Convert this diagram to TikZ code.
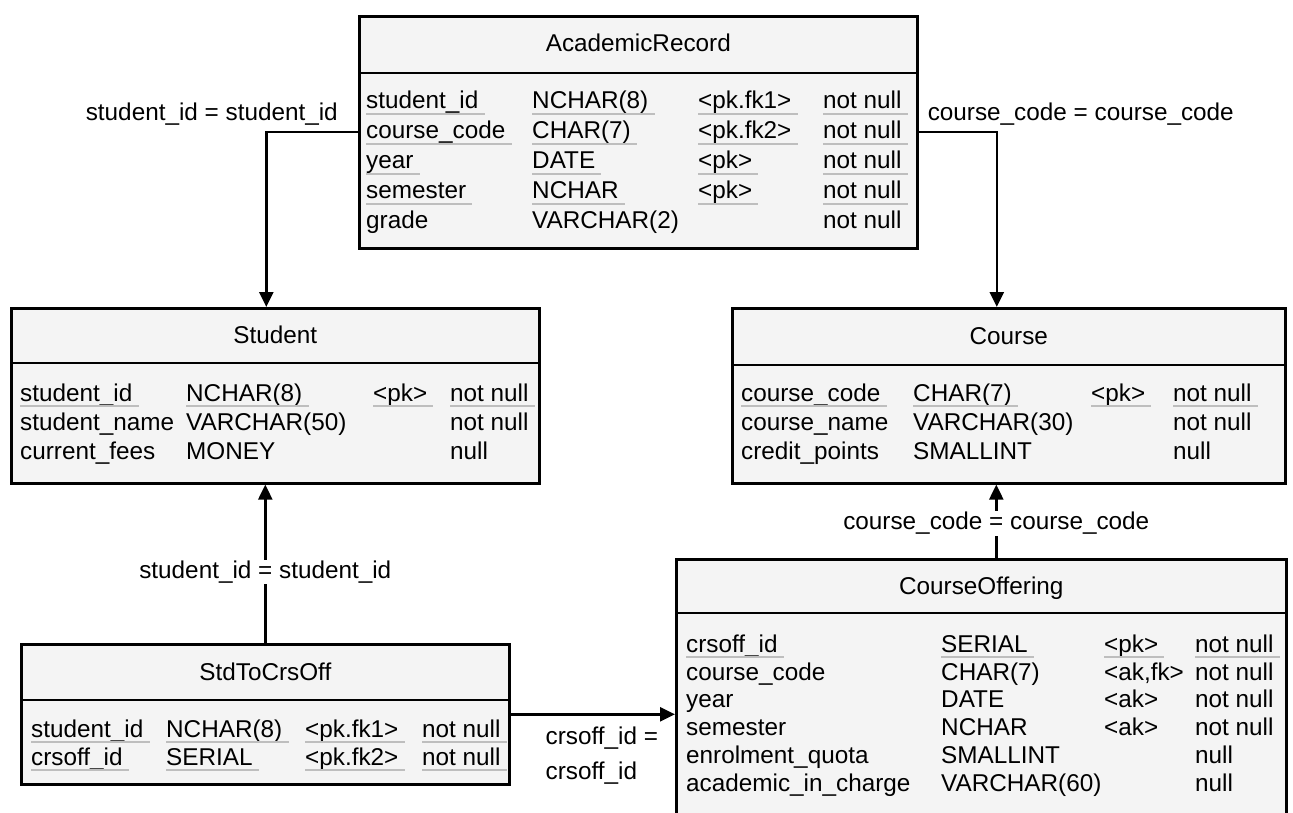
\documentclass[tikz,border=0pt]{standalone}
\usepackage{fontspec}
\setmainfont{Liberation Sans}
\usetikzlibrary{arrows.meta}

\definecolor{boxgray}{RGB}{244,244,244}
\definecolor{ulgray}{RGB}{190,190,190}

\tikzset{
  every node/.style={font=\fontsize{24.3}{35}\selectfont},
  tbl/.style={draw, line width=2.6pt, fill=boxgray, anchor=north west, inner sep=0pt},
  fld/.style={anchor=base west, inner sep=0pt, text depth=5pt},
  pkfld/.style={fld, append after command={(\tikzlastnode.south west) edge[draw=ulgray, line width=1.5pt] ([xshift=6pt]\tikzlastnode.south east)}},
  ttl/.style={anchor=base},
  lbl/.style={inner sep=1pt},
  fk/.style={line width=2.4pt, -{Triangle[length=15pt,width=14pt]}},
  hdr/.style={line width=2.6pt}
}

\begin{document}
\begin{tikzpicture}[x=1pt, y=-1pt]
  \useasboundingbox (0,0) rectangle (1293,813);

  % tables
  \node[tbl, minimum width=558pt, minimum height=232pt] (ar) at (358,15) {};
  \node[tbl, minimum width=528pt, minimum height=175pt] (st) at (10,307) {};
  \node[tbl, minimum width=553pt, minimum height=175pt] (crs) at (731,307) {};
  \node[tbl, minimum width=488pt, minimum height=140pt] (sto) at (20,643) {};
  \node[tbl, minimum width=610pt, minimum height=272pt] (co) at (675,558) {};

  \draw[hdr] ([yshift=-58pt]ar.north west) -- ([yshift=-58pt]ar.north east);
  \draw[hdr] ([yshift=-56pt]st.north west) -- ([yshift=-56pt]st.north east);
  \draw[hdr] ([yshift=-58pt]crs.north west) -- ([yshift=-58pt]crs.north east);
  \draw[hdr] ([yshift=-57pt]sto.north west) -- ([yshift=-57pt]sto.north east);
  \draw[hdr] ([yshift=-55pt]co.north west) -- ([yshift=-55pt]co.north east);

  \node[ttl] (ar-h) at ([yshift=-37pt]ar.north) {AcademicRecord};
  \node[ttl] (st-h) at ([yshift=-36pt]st.north) {Student};
  \node[ttl] (crs-h) at ([yshift=-37pt]crs.north) {Course};
  \node[ttl] (sto-h) at ([yshift=-37pt]sto.north) {StdToCrsOff};
  \node[ttl] (co-h) at ([yshift=-36pt]co.north) {CourseOffering};

  % AcademicRecord
  \node[pkfld] (ar-n1) at (366,109) {student\_id};
  \node[pkfld] (ar-t1) at (532,109) {NCHAR(8)};
  \node[pkfld] (ar-k1) at (698,109) {<pk.fk1>};
  \node[pkfld] (ar-x1) at (823,109) {not null};
  \node[pkfld] (ar-n2) at (366,139) {course\_code};
  \node[pkfld] (ar-t2) at (532,139) {CHAR(7)};
  \node[pkfld] (ar-k2) at (698,139) {<pk.fk2>};
  \node[pkfld] (ar-x2) at (823,139) {not null};
  \node[pkfld] (ar-n3) at (366,169) {year};
  \node[pkfld] (ar-t3) at (532,169) {DATE};
  \node[pkfld] (ar-k3) at (698,169) {<pk>};
  \node[pkfld] (ar-x3) at (823,169) {not null};
  \node[pkfld] (ar-n4) at (366,199) {semester};
  \node[pkfld] (ar-t4) at (532,199) {NCHAR};
  \node[pkfld] (ar-k4) at (698,199) {<pk>};
  \node[pkfld] (ar-x4) at (823,199) {not null};
  \node[fld] (ar-n5) at (366,229) {grade};
  \node[fld] (ar-t5) at (532,229) {VARCHAR(2)};
  \node[fld] (ar-x5) at (823,229) {not null};

  % Student
  \node[pkfld] (st-n1) at (20,401) {student\_id};
  \node[pkfld] (st-t1) at (186,401) {NCHAR(8)};
  \node[pkfld] (st-k1) at (373,401) {<pk>};
  \node[pkfld] (st-x1) at (450,401) {not null};
  \node[fld] (st-n2) at (20,430) {student\_name};
  \node[fld] (st-t2) at (186,430) {VARCHAR(50)};
  \node[fld] (st-x2) at (450,430) {not null};
  \node[fld] (st-n3) at (20,459) {current\_fees};
  \node[fld] (st-t3) at (186,459) {MONEY};
  \node[fld] (st-x3) at (450,459) {null};

  % Course
  \node[pkfld] (crs-n1) at (741,401) {course\_code};
  \node[pkfld] (crs-t1) at (913,401) {CHAR(7)};
  \node[pkfld] (crs-k1) at (1091,401) {<pk>};
  \node[pkfld] (crs-x1) at (1173,401) {not null};
  \node[fld] (crs-n2) at (741,430) {course\_name};
  \node[fld] (crs-t2) at (913,430) {VARCHAR(30)};
  \node[fld] (crs-x2) at (1173,430) {not null};
  \node[fld] (crs-n3) at (741,459) {credit\_points};
  \node[fld] (crs-t3) at (913,459) {SMALLINT};
  \node[fld] (crs-x3) at (1173,459) {null};

  % StdToCrsOff
  \node[pkfld] (sto-n1) at (31,737) {student\_id};
  \node[pkfld] (sto-t1) at (166,737) {NCHAR(8)};
  \node[pkfld] (sto-k1) at (305,737) {<pk.fk1>};
  \node[pkfld] (sto-x1) at (422,737) {not null};
  \node[pkfld] (sto-n2) at (31,765) {crsoff\_id};
  \node[pkfld] (sto-t2) at (166,765) {SERIAL};
  \node[pkfld] (sto-k2) at (305,765) {<pk.fk2>};
  \node[pkfld] (sto-x2) at (422,765) {not null};

  % CourseOffering
  \node[pkfld] (co-n1) at (686,652) {crsoff\_id};
  \node[pkfld] (co-t1) at (941,652) {SERIAL};
  \node[pkfld] (co-k1) at (1104,652) {<pk>};
  \node[pkfld] (co-x1) at (1195,652) {not null};
  \node[fld] (co-n2) at (686,680) {course\_code};
  \node[fld] (co-t2) at (941,680) {CHAR(7)};
  \node[fld] (co-k2) at (1104,680) {<ak,fk>};
  \node[fld] (co-x2) at (1195,680) {not null};
  \node[fld] (co-n3) at (686,707) {year};
  \node[fld] (co-t3) at (941,707) {DATE};
  \node[fld] (co-k3) at (1104,707) {<ak>};
  \node[fld] (co-x3) at (1195,707) {not null};
  \node[fld] (co-n4) at (686,735) {semester};
  \node[fld] (co-t4) at (941,735) {NCHAR};
  \node[fld] (co-k4) at (1104,735) {<ak>};
  \node[fld] (co-x4) at (1195,735) {not null};
  \node[fld] (co-n5) at (686,763) {enrolment\_quota};
  \node[fld] (co-t5) at (941,763) {SMALLINT};
  \node[fld] (co-x5) at (1195,763) {null};
  \node[fld] (co-n6) at (686,791) {academic\_in\_charge};
  \node[fld] (co-t6) at (941,791) {VARCHAR(60)};
  \node[fld] (co-x6) at (1195,791) {null};

  % relationships
  \draw[fk] (ar.west) -| ([xshift=-9pt]st.north);
  \node[lbl, anchor=base east] (ar-st) at ([xshift=-19pt,yshift=12pt]ar.west) {student\_id = student\_id};
  \draw[fk] (ar.east) -| ([xshift=-12pt]crs.north);
  \node[lbl, anchor=base west] (ar-crs) at ([xshift=8pt,yshift=12pt]ar.east) {course\_code = course\_code};

  \draw[fk] (sto.north) -- node[lbl, fill=white, pos=0.45] (sto-st) {student\_id = student\_id} (sto.north |- st.south);
  \draw[fk] ([xshift=15pt]co.north) -- node[lbl, fill=white, pos=0.47] (co-crs) {course\_code = course\_code} ([xshift=15pt]co.north |- crs.south);
  \draw[fk] (sto.east) -- node[lbl, anchor=north, align=left, xshift=9pt, yshift=-10pt] (sto-co) {crsoff\_id =\\crsoff\_id} (sto.east -| co.west);

\end{tikzpicture}
\end{document}
